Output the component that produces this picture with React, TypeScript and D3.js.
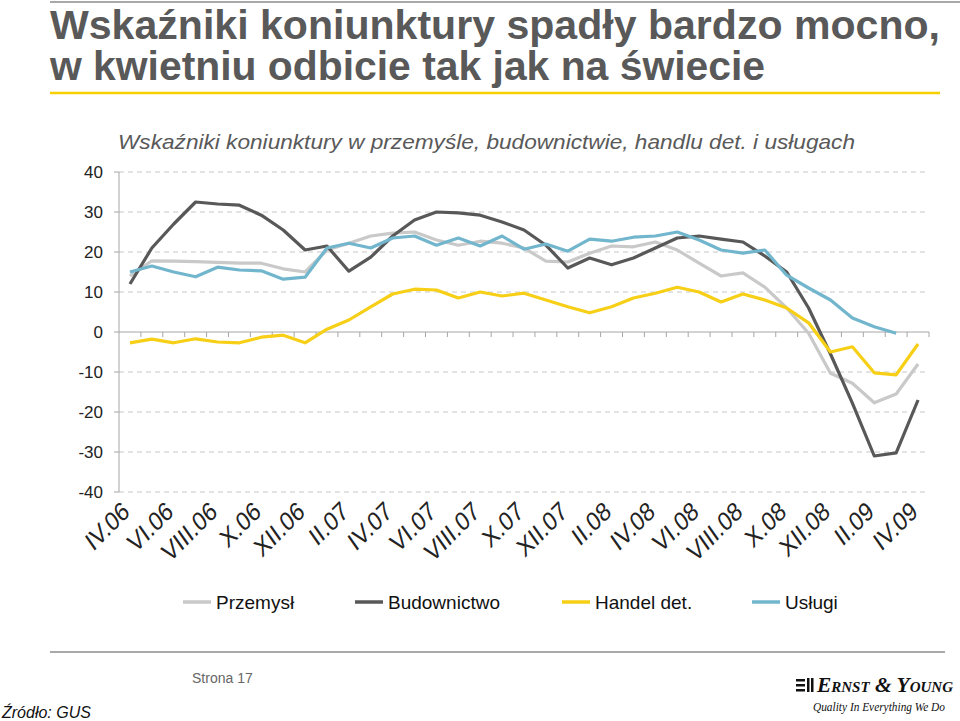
import * as d3 from 'd3';

const months = [
  'IV.06', 'V.06', 'VI.06', 'VII.06', 'VIII.06', 'IX.06', 'X.06', 'XI.06', 'XII.06',
  'I.07', 'II.07', 'III.07', 'IV.07', 'V.07', 'VI.07', 'VII.07', 'VIII.07', 'IX.07', 'X.07', 'XI.07', 'XII.07',
  'I.08', 'II.08', 'III.08', 'IV.08', 'V.08', 'VI.08', 'VII.08', 'VIII.08', 'IX.08', 'X.08', 'XI.08', 'XII.08',
  'I.09', 'II.09', 'III.09', 'IV.09',
];

const przemysl = [
  14, 17.8, 17.7, 17.6, 17.4, 17.2, 17.2, 15.8, 15, 20.5, 22.2, 24, 24.7, 25, 23, 21.7,
  22.7, 22.2, 21, 17.7, 17.5, 19.7, 21.5, 21.3, 22.5, 20.5, 17.2, 14, 14.8, 11.2, 6,
  -0.3, -10.3, -12.8, -17.7, -15.5, -8,
];
const budownictwo = [
  12, 21, 27, 32.5, 32, 31.7, 29.2, 25.5, 20.5, 21.5, 15.2, 18.7, 24, 28, 30, 29.8,
  29.2, 27.5, 25.5, 21.7, 16, 18.5, 16.8, 18.5, 21, 23.5, 24, 23.2, 22.5, 19, 15,
  6, -5.5, -17.8, -31, -30.2, -17,
];
const handel = [
  -2.7, -1.8, -2.7, -1.7, -2.5, -2.7, -1.3, -0.8, -2.7, 0.7, 3, 6.3, 9.5, 10.7, 10.5, 8.5,
  10, 9, 9.7, 8, 6.3, 4.8, 6.3, 8.5, 9.7, 11.2, 10, 7.5, 9.5, 8, 6,
  2.3, -5, -3.7, -10.2, -10.7, -3,
];
const uslugi: (number | null)[] = [
  15, 16.5, 15, 13.8, 16.2, 15.5, 15.3, 13.2, 13.7, 21, 22.2, 21, 23.5, 24, 21.7, 23.5,
  21.5, 24, 20.7, 22, 20.2, 23.2, 22.7, 23.7, 24, 25, 23, 20.5, 19.7, 20.5, 14.2,
  11, 8, 3.5, 1.3, -0.3, null,
];

const yTicks = [40, 30, 20, 10, 0, -10, -20, -30, -40];

const seriesList = [
  { name: 'Przemysł', values: przemysl as (number | null)[], color: '#c9c9c9' },
  { name: 'Budownictwo', values: budownictwo as (number | null)[], color: '#585858' },
  { name: 'Handel det.', values: handel as (number | null)[], color: '#f6cf16' },
  { name: 'Usługi', values: uslugi, color: '#72b6cd' },
];

const FONT = "'Liberation Sans', Arial, sans-serif";

export default function App() {
  const width = 960;
  const height = 721;
  const plot = { left: 119, right: 929, top: 172, bottom: 492 };

  const x = d3.scaleBand<string>().domain(months).range([plot.left, plot.right]).padding(0);
  const y = d3.scaleLinear().domain([-40, 40]).range([plot.bottom, plot.top]);
  const cx = (m: string) => (x(m) as number) + x.bandwidth() / 2;

  const line = d3
    .line<number | null>()
    .defined(d => d !== null)
    .x((_, i) => cx(months[i]))
    .y(d => y(d as number));

  const legendX = [183, 355, 562, 752];

  return (
    <svg width={width} height={height} style={{ position: 'absolute', left: 0, top: 0, background: '#fff' }}>
      {/* header */}
      <line x1={50} x2={960} y1={2} y2={2} stroke="#8c8c8c" strokeWidth={1.5} />
      <text x={50} y={39} fontFamily={FONT} fontWeight="bold" fontSize={40} fill="#595959"
        textLength={890} lengthAdjust="spacingAndGlyphs">
        Wskaźniki koniunktury spadły bardzo mocno,
      </text>
      <text x={50} y={80} fontFamily={FONT} fontWeight="bold" fontSize={40} fill="#595959"
        textLength={715} lengthAdjust="spacingAndGlyphs">
        w kwietniu odbicie tak jak na świecie
      </text>
      <line x1={50} x2={940} y1={93} y2={93} stroke="#f6d000" strokeWidth={2.5} />

      {/* subtitle */}
      <text x={118} y={149} fontFamily={FONT} fontStyle="italic" fontSize={21} fill="#595959"
        textLength={737} lengthAdjust="spacingAndGlyphs">
        Wskaźniki koniunktury w przemyśle, budownictwie, handlu det. i usługach
      </text>

      {/* grid */}
      {yTicks.filter(t => t !== 0).map(t => (
        <line key={`g${t}`} x1={plot.left} x2={plot.right} y1={y(t)} y2={y(t)}
          stroke="#c8c8c8" strokeWidth={1} strokeDasharray="5,4" />
      ))}
      {/* y axis */}
      <line x1={plot.left} x2={plot.left} y1={plot.top} y2={plot.bottom} stroke="#a6a6a6" strokeWidth={1} />
      {yTicks.map(t => (
        <g key={`y${t}`}>
          <line x1={plot.left - 5} x2={plot.left} y1={y(t)} y2={y(t)} stroke="#a6a6a6" />
          <text x={103} y={y(t)} dy="0.35em" textAnchor="end" fontFamily={FONT} fontSize={17} fill="#222">
            {t}
          </text>
        </g>
      ))}
      {/* zero axis with ticks */}
      <line x1={plot.left} x2={plot.right} y1={y(0)} y2={y(0)} stroke="#a6a6a6" strokeWidth={1} />
      {months.map(m => (
        <line key={`t${m}`} x1={(x(m) as number) + x.bandwidth()} x2={(x(m) as number) + x.bandwidth()}
          y1={y(0)} y2={y(0) + 5} stroke="#a6a6a6" />
      ))}

      {/* series */}
      {seriesList.map(s => (
        <path key={s.name} d={line(s.values) || ''} fill="none" stroke={s.color} strokeWidth={3.2}
          strokeLinejoin="round" />
      ))}

      {/* x labels (slightly stretched vertically, as in the source slide) */}
      {months.map((m, i) =>
        i % 2 === 0 ? (
          <text key={`l${m}`} transform={`translate(${cx(m) + 1},${514}) scale(1,1.2) rotate(-40)`}
            textAnchor="end" fontFamily={FONT} fontSize={22} fill="#222">
            {m}
          </text>
        ) : null
      )}

      {/* legend */}
      {seriesList.map((s, i) => (
        <g key={`lg${s.name}`} transform={`translate(${legendX[i]},602)`}>
          <line x1={0} x2={28} y1={0} y2={0} stroke={s.color} strokeWidth={3.5} />
          <text x={33} y={0} dy="0.35em" fontFamily={FONT} fontSize={19} fill="#111">
            {s.name}
          </text>
        </g>
      ))}

      {/* footer */}
      <line x1={50} x2={945} y1={652} y2={652} stroke="#8c8c8c" strokeWidth={1.5} />
      <text x={192} y={683} fontFamily={FONT} fontSize={14} fill="#666">Strona 17</text>
      <text x={2} y={718} fontFamily={FONT} fontStyle="italic" fontSize={16} fill="#111">Źródło: GUS</text>

      {/* logo */}
      <g fill="#111">
        <rect x={796} y={679} width={9} height={2.5} />
        <rect x={796} y={684} width={9} height={2.5} />
        <rect x={796} y={689} width={9} height={2.5} />
        <rect x={807} y={678} width={2.5} height={14} />
        <rect x={811} y={678} width={2.5} height={14} />
      </g>
      <text x={817} y={692} fontFamily="'Liberation Serif', serif" fontStyle="italic" fontWeight="bold"
        fontSize={20} fill="#111" style={{ fontVariant: 'small-caps' }} textLength={136}
        lengthAdjust="spacingAndGlyphs">
        Ernst &amp; Young
      </text>
      <text x={813} y={711} fontFamily="'Liberation Serif', serif" fontStyle="italic"
        fontSize={12} fill="#111" textLength={132} lengthAdjust="spacingAndGlyphs">
        Quality In Everything We Do
      </text>
    </svg>
  );
}
